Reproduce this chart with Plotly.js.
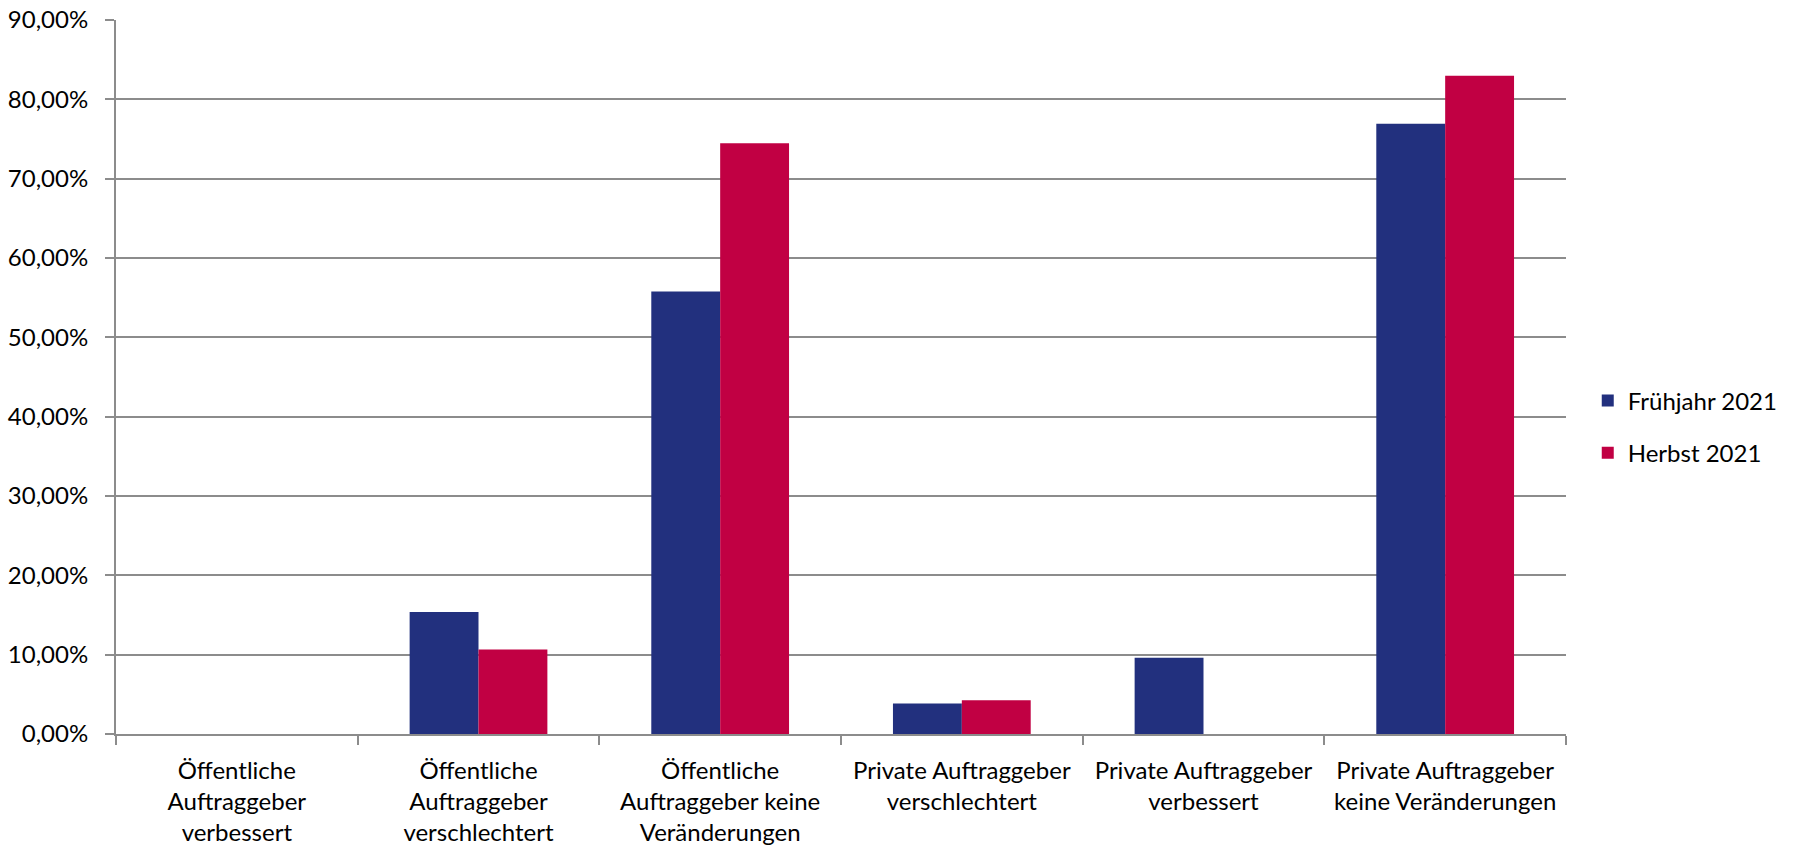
<!DOCTYPE html>
<html>
<head>
<meta charset="utf-8">
<script src="https://cdn.plot.ly/plotly-3.0.1.min.js"></script>
<style>
html,body{margin:0;padding:0;background:#fff;}
#chart{width:1801px;height:846px;}
</style>
</head>
<body>
<div id="chart"></div>
<script>
const categories = [
  "Öffentliche<br>Auftraggeber<br>verbessert",
  "Öffentliche<br>Auftraggeber<br>verschlechtert",
  "Öffentliche<br>Auftraggeber keine<br>Veränderungen",
  "Private Auftraggeber<br>verschlechtert",
  "Private Auftraggeber<br>verbessert",
  "Private Auftraggeber<br>keine Veränderungen"
];
const seriesNames = ["Frühjahr 2021", "Herbst 2021"];
const fruehjahr2021 = [0, 15.38, 55.77, 3.85, 9.62, 76.92];
const herbst2021 = [0, 10.64, 74.47, 4.26, 0, 82.98];
const yTickValues = [0, 10, 20, 30, 40, 50, 60, 70, 80, 90];
const yTickText = yTickValues.map(v => v.toFixed(2).replace(".", ",") + "%");

const FONT = "Lato, 'Noto Sans', sans-serif";
const GRID = "#8c8c8c";

const traces = [
  {type: "bar", name: seriesNames[0], x: categories, y: fruehjahr2021,
   marker: {color: "#22307e", line: {width: 0}},
   legendgroup: "a", hoverinfo: "skip"},
  {type: "bar", name: seriesNames[1], x: categories, y: herbst2021,
   marker: {color: "#c10043", line: {width: 0}},
   legendgroup: "b", hoverinfo: "skip"}
];

const layout = {
  width: 1801, height: 846,
  paper_bgcolor: "#fff", plot_bgcolor: "#fff",
  margin: {l: 116, r: 235, t: 20, b: 112, pad: 0},
  font: {family: FONT, size: 24, color: "#000"},
  barmode: "group", bargap: 0.43, bargroupgap: 0,
  showlegend: true,
  legend: {x: 1.015, xanchor: "left", y: 0.43, yanchor: "middle",
           font: {family: FONT, size: 24, color: "#000"},
           traceorder: "grouped", tracegroupgap: 18,
           bgcolor: "rgba(0,0,0,0)"},
  xaxis: {type: "category", showgrid: false, showline: true, linecolor: GRID, linewidth: 2,
          ticks: "outside", tickson: "boundaries", ticklen: 9, tickcolor: GRID, tickwidth: 2,
          ticklabelstandoff: 14,
          tickangle: 0, tickfont: {family: FONT, size: 24, color: "#000"}, fixedrange: true},
  yaxis: {range: [0, 90], tickmode: "array", tickvals: yTickValues, ticktext: yTickText,
          showgrid: true, gridcolor: GRID, gridwidth: 2,
          showline: true, linecolor: GRID, linewidth: 2, zeroline: false,
          ticks: "outside", ticklen: 9, tickcolor: GRID, tickwidth: 2,
          ticklabelstandoff: 12,
          tickfont: {family: FONT, size: 24, color: "#000"}, fixedrange: true}
};

Plotly.newPlot("chart", traces, layout, {displayModeBar: false, staticPlot: true});
</script>
</body>
</html>
